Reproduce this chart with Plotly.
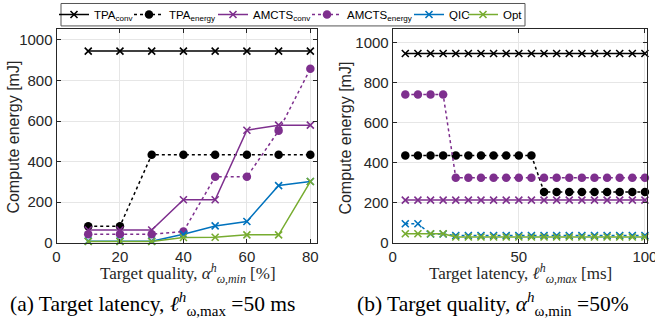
import plotly.graph_objects as go

# ---- data ----
x_quality = [10, 20, 30, 40, 50, 60, 70, 80]
a_tpa_conv = [945, 945, 945, 945, 945, 945, 945, 945]
a_tpa_energy = [82, 82, 434, 434, 434, 434, 434, 434]
a_amcts_conv = [63, 63, 63, 212, 212, 555, 580, 580]
a_amcts_energy = [42, 42, 42, 56, 325, 325, 552, 858]
a_qic = [8, 8, 8, 42, 83, 105, 282, 302]
a_opt = [6, 6, 6, 26, 27, 39, 39, 302]

x_latency = [5, 10, 15, 20, 25, 30, 35, 40, 45, 50, 55, 60, 65, 70, 75, 80, 85, 90, 95, 100]
b_tpa_conv = [945] * 20
b_tpa_energy = [436] * 11 + [254] * 9
b_amcts_conv = [213] * 20
b_amcts_energy = [740] * 4 + [325] * 16
b_qic = [95, 95, 44, 44] + [36] * 16
b_opt = [45, 45, 45, 45] + [29] * 16

names = ["TPA<sub>conv</sub>", "TPA<sub>energy</sub>", "AMCTS<sub>conv</sub>",
         "AMCTS<sub>energy</sub>", "QIC", "Opt"]
colors = ["#000000", "#000000", "#7E2F8E", "#7E2F8E", "#0072BD", "#77AC30"]

W, H = 655, 332
# legend text start positions (px) of each entry
legend_text_x = [94, 169, 253, 347, 449, 503]

fig = go.Figure()

def add(x, y, i, xa, ya, dash, circle, show):
    marker = dict(color=colors[i], size=8.5, symbol="circle") if circle else \
        dict(color=colors[i], size=7, symbol="x-thin", line=dict(color=colors[i], width=1.6))
    lg = "legend" if i == 0 else "legend%d" % (i + 1)
    fig.add_trace(go.Scatter(x=x, y=y, mode="lines+markers", name=names[i],
                             line=dict(color=colors[i], width=1.5, dash=dash),
                             marker=marker, xaxis=xa, yaxis=ya, showlegend=show,
                             legend=lg, cliponaxis=False))

left = [a_tpa_conv, a_tpa_energy, a_amcts_conv, a_amcts_energy, a_qic, a_opt]
right = [b_tpa_conv, b_tpa_energy, b_amcts_conv, b_amcts_energy, b_qic, b_opt]
dashes_l = ["solid", "dot", "solid", "dot", "solid", "solid"]
dashes_r = ["solid", "dot", "solid", "dot", "dot", "solid"]
circ = [False, True, False, True, False, False]
for i in range(6):
    add(x_quality, left[i], i, "x", "y", dashes_l[i], circ[i], True)
for i in range(6):
    add(x_latency, right[i], i, "x2", "y2", dashes_r[i], circ[i], False)

top, bot = 28.5, 242.5
sans = "Liberation Sans, Arial, sans-serif"
ax_common = dict(showgrid=True, gridcolor="#e6e6e6", gridwidth=1, zeroline=False,
                 showline=True, linecolor="#262626", linewidth=1, mirror="ticks",
                 ticks="inside", ticklen=4, tickcolor="#262626",
                 tickfont=dict(family=sans, size=15, color="#262626"),
                 ticklabeloverflow="allow", automargin=False)

fig.update_layout(
    width=W, height=H, margin=dict(l=0, r=0, t=0, b=0),
    plot_bgcolor="white", paper_bgcolor="white",
    xaxis=dict(domain=[56.5 / W, 316.7 / W], range=[0, 82], tickvals=[0, 20, 40, 60, 80],
               anchor="y", **ax_common),
    yaxis=dict(domain=[1 - bot / H, 1 - top / H], range=[0, 1052],
               tickvals=[0, 200, 400, 600, 800, 1000], anchor="x", **ax_common),
    xaxis2=dict(domain=[392.7 / W, 646.7 / W], range=[0, 100.7], tickvals=[0, 50, 100],
                anchor="y2", **ax_common),
    yaxis2=dict(domain=[1 - bot / H, 1 - top / H], range=[0, 1065],
                tickvals=[0, 200, 400, 600, 800, 1000], anchor="x2", **ax_common),
    showlegend=True,
)

for i, tx in enumerate(legend_text_x):
    key = "legend" if i == 0 else "legend%d" % (i + 1)
    fig.update_layout({key: dict(orientation="h", x=(tx - 40) / W, y=1 - 13.5 / H,
                                 xanchor="left", yanchor="middle",
                                 bgcolor="rgba(0,0,0,0)", borderwidth=0,
                                 font=dict(family=sans, size=11.5, color="#000000"))})

fig.add_shape(type="rect", xref="paper", yref="paper", x0=61 / W, x1=525 / W,
              y0=1 - 25 / H, y1=1 - 2.5 / H, line=dict(color="#555555", width=1),
              fillcolor="white", layer="below")

serif = "Liberation Serif, Times New Roman, serif"
ann = [
    dict(x=14 / W, y=1 - 137 / H, text="Compute energy [mJ]", textangle=-90,
         font=dict(family=sans, size=16, color="#262626")),
    dict(x=346 / W, y=1 - 137 / H, text="Compute energy [mJ]", textangle=-90,
         font=dict(family=sans, size=16, color="#262626")),
    dict(x=188 / W, y=1 - 273 / H,
         text="Target quality, <i>α</i><sup><i>h</i></sup><sub><i>ω,min</i></sub> [%]",
         font=dict(family=serif, size=17, color="#262626")),
    dict(x=520 / W, y=1 - 273 / H,
         text="Target latency, <i>ℓ</i><sup><i>h</i></sup><sub><i>ω,max</i></sub> [ms]",
         font=dict(family=serif, size=17, color="#262626")),
    dict(x=152 / W, y=1 - 304 / H,
         text="(a) Target latency, <i>ℓ</i><sup><i>h</i></sup><sub>ω,max</sub> =50 ms",
         font=dict(family=serif, size=21.5, color="#000000")),
    dict(x=493 / W, y=1 - 304 / H,
         text="(b) Target quality, <i>α</i><sup><i>h</i></sup><sub>ω,min</sub> =50%",
         font=dict(family=serif, size=21.5, color="#000000")),
]
for a in ann:
    a.update(xref="paper", yref="paper", showarrow=False, xanchor="center", yanchor="middle")
fig.update_layout(annotations=ann)

fig.write_html("out.html")
